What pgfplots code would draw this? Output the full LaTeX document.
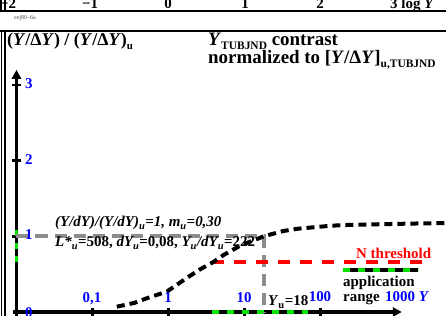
\documentclass[border=0pt]{standalone}
\usepackage{fontspec}
\setmainfont{Liberation Serif}
\usepackage{pgfplots}
\pgfplotsset{compat=1.18}
\usetikzlibrary{arrows.meta}
\definecolor{lgreen}{RGB}{0,225,0}
\definecolor{tblue}{RGB}{0,0,255}
\definecolor{lgray}{RGB}{140,140,140}
\newcommand{\sbb}[2][11.5]{\raisebox{-3.5bp}{\fontsize{#1}{#1}\selectfont #2}}
\begin{document}
\begin{tikzpicture}
\begin{axis}[name=ax, at={(0,0)}, anchor=south west, width=446bp, height=316bp,
  scale only axis, hide axis, clip=false,
  xmin=-2.2171, xmax=3.6513, ymin=-0.0528, ymax=4.1215]
% axes
\draw[line width=3.5bp, -{Triangle[length=9bp,width=9bp]}] (axis cs:-2.046,0) -- (axis cs:3.07,0);
\draw[line width=3.5bp, -{Triangle[length=9bp,width=9bp]}] (axis cs:-2,-0.06) -- (axis cs:-2,3.2);
\draw[line width=2.5bp] (axis cs:-1,-0.053) -- (axis cs:-1,0.053);
\draw[line width=2.5bp] (axis cs:0,-0.053) -- (axis cs:0,0.053);
\draw[line width=2.5bp] (axis cs:1,-0.053) -- (axis cs:1,0.053);
\draw[line width=2.5bp] (axis cs:2,-0.053) -- (axis cs:2,0.053);
\draw[line width=2.5bp] (axis cs:-2.053,1) -- (axis cs:-1.947,1);
\draw[line width=2.5bp] (axis cs:-2.053,2) -- (axis cs:-1.947,2);
\draw[line width=2.5bp] (axis cs:-2.053,3) -- (axis cs:-1.947,3);
% application range on axes
\addplot[lgreen, line width=3.5bp, dash pattern=on 7bp off 8bp] coordinates {(0.57,0) (1.84,0)};
\addplot[lgreen, line width=3.5bp, dash pattern=on 6bp off 7bp] coordinates {(-2,0.66) (-2,1.17)};
% legend of application range
\addplot[black, line width=3.5bp] coordinates {(2.292,0.555) (3.279,0.555)};
\addplot[lgreen, line width=3.5bp, dash pattern=on 7bp off 8bp] coordinates {(2.292,0.555) (3.279,0.555)};
% gray reference lines
\addplot[lgray, line width=4bp, dash pattern=on 12bp off 7bp] coordinates {(-2,1) (1.255,1) (1.255,0)};
% red threshold
\addplot[red, line width=4bp, dash pattern=on 12bp off 10bp] coordinates {(0.57,0.66) (3.44,0.66)};
% curve
\addplot[black, line width=4bp, dash pattern=on 8bp off 5bp] coordinates {
(-0.68,0.07) (-0.45,0.12) (-0.29,0.18) (-0.02,0.27) (0.11,0.36) (0.24,0.45)
(0.41,0.56) (0.59,0.66) (0.72,0.75) (0.95,0.88) (1.255,1.00) (1.51,1.07)
(1.70,1.10) (1.92,1.12) (2.14,1.14) (2.36,1.15) (2.8,1.16) (3.3,1.17) (3.66,1.175)};
\end{axis}
\begin{scope}[shift={(0,316bp)}, x=1bp, y=-1bp]
% frames
\draw[line width=2.5bp] (0,11) -- (446,11);
\draw[line width=1.2bp] (1,0) -- (1,11);
\draw[line width=1.2bp] (5,0) -- (5,11);
\draw[line width=2.5bp] (0,31) -- (446,31);
\draw[line width=1.2bp] (1.5,31) -- (1.5,316);
\draw[line width=1.2bp] (5,31) -- (5,316);
% top strip labels
\begin{scope}[every node/.style={inner sep=0pt, font=\fontsize{15}{17}\selectfont\bfseries}]
\node[anchor=base] at (8,9) {\textminus 2};
\node[anchor=base] at (90,9) {\textminus 1};
\node[anchor=base] at (168,9) {0};
\node[anchor=base] at (245,9) {1};
\node[anchor=base] at (320,9) {2};
\node[anchor=base west] at (390,9) {3 log \textit{Y}};
\end{scope}
\node[anchor=base west, inner sep=0pt, font=\fontsize{6}{7}\selectfont, text=black!70] at (14,20) {eej80\textendash 6a};
% titles
\node[inner sep=0pt, anchor=base west, font=\fontsize{18}{20}\selectfont\bfseries] at (7,46)
  {(\textit{Y}/Δ\textit{Y}) / (\textit{Y}/Δ\textit{Y})\sbb[11]{u}};
\begin{scope}[every node/.style={inner sep=0pt, anchor=base west, font=\fontsize{19}{21}\selectfont\bfseries}]
\node at (208,46) {\textit{Y}\sbb{TUBJND} contrast};
\node at (208,64) {normalized to [\textit{Y}/Δ\textit{Y}]\sbb{u,TUBJND}};
\end{scope}
% annotations
\begin{scope}[every node/.style={inner sep=0pt, anchor=base west, font=\fontsize{15}{17}\selectfont\bfseries}]
\node at (55,227) {\itshape (Y/dY)/(Y/dY)\textsubscript{u}=1, m\textsubscript{u}=0,30};
\node at (55,247) {\itshape L*\textsubscript{u}\upshape=508, \itshape dY\textsubscript{u}\upshape=0,08, \itshape Y\textsubscript{u}/dY\textsubscript{u}\upshape=222};
\node[text=red] at (356,259) {N threshold};
\node at (343,287) {application};
\node at (343,302) {range};
\node at (268,306) {\textit{Y}\textsubscript{u}=18};
\end{scope}
% tick labels
\begin{scope}[every node/.style={inner sep=0pt, text=tblue, font=\fontsize{15}{17}\selectfont\bfseries}]
\node[anchor=base] at (92,303) {0,1};
\node[anchor=base] at (168,303) {1};
\node[anchor=base] at (244,303) {10};
\node[anchor=base] at (320,302) {100};
\node[anchor=base west] at (385,302) {1000 \textit{Y}};
\node[anchor=base west] at (25,318) {0};
\node[anchor=west] at (25,235) {1};
\node[anchor=west] at (25,160) {2};
\node[anchor=west] at (25,84) {3};
\end{scope}
\end{scope}
\pgfresetboundingbox
\path[use as bounding box] (0,0) rectangle (446bp,316bp);
\end{tikzpicture}
\end{document}
